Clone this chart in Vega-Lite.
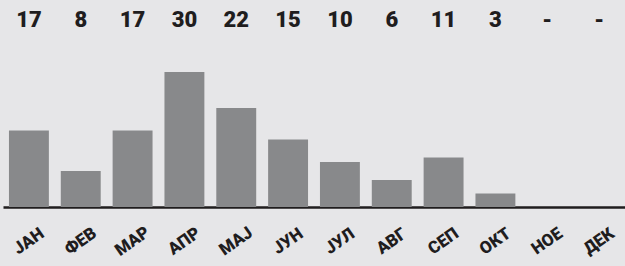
{
  "$schema": "https://vega.github.io/schema/vega-lite/v6.json",
  "autosize": "none",
  "width": 622,
  "height": 207,
  "padding": {"left": 3, "top": 0, "right": 0, "bottom": 59},
  "background": "#e6e6e8",
  "config": {"view": {"stroke": null}},
  "data": {"values": [
    {"month": "ЈАН", "value": 17, "label": "17"},
    {"month": "ФЕВ", "value": 8, "label": "8"},
    {"month": "МАР", "value": 17, "label": "17"},
    {"month": "АПР", "value": 30, "label": "30"},
    {"month": "МАЈ", "value": 22, "label": "22"},
    {"month": "ЈУН", "value": 15, "label": "15"},
    {"month": "ЈУЛ", "value": 10, "label": "10"},
    {"month": "АВГ", "value": 6, "label": "6"},
    {"month": "СЕП", "value": 11, "label": "11"},
    {"month": "ОКТ", "value": 3, "label": "3"},
    {"month": "НОЕ", "value": null, "label": "-"},
    {"month": "ДЕК", "value": null, "label": "-"}
  ]},
  "encoding": {
    "x": {
      "field": "month", "type": "nominal", "sort": null, "title": null,
      "scale": {"paddingInner": 0.23, "paddingOuter": 0.115},
      "axis": {
        "domainColor": "#1f1d1e", "domainWidth": 2.5, "ticks": false,
        "labelAngle": -35, "labelAlign": "center", "labelBaseline": "middle",
        "labelPadding": 34, "labelFont": "Roboto", "labelFontWeight": 900,
        "labelFontSize": 17, "labelColor": "#1f1d1e"
      }
    }
  },
  "layer": [
    {
      "mark": {"type": "bar", "color": "#88898b"},
      "encoding": {
        "y": {"field": "value", "type": "quantitative", "scale": {"domain": [0, 46], "nice": false}, "axis": null}
      }
    },
    {
      "mark": {"type": "text", "font": "Roboto", "fontWeight": 900, "fontSize": 22, "color": "#1f1d1e", "baseline": "middle"},
      "encoding": {
        "y": {"datum": 41.5, "type": "quantitative"},
        "text": {"field": "label"}
      }
    }
  ]
}
